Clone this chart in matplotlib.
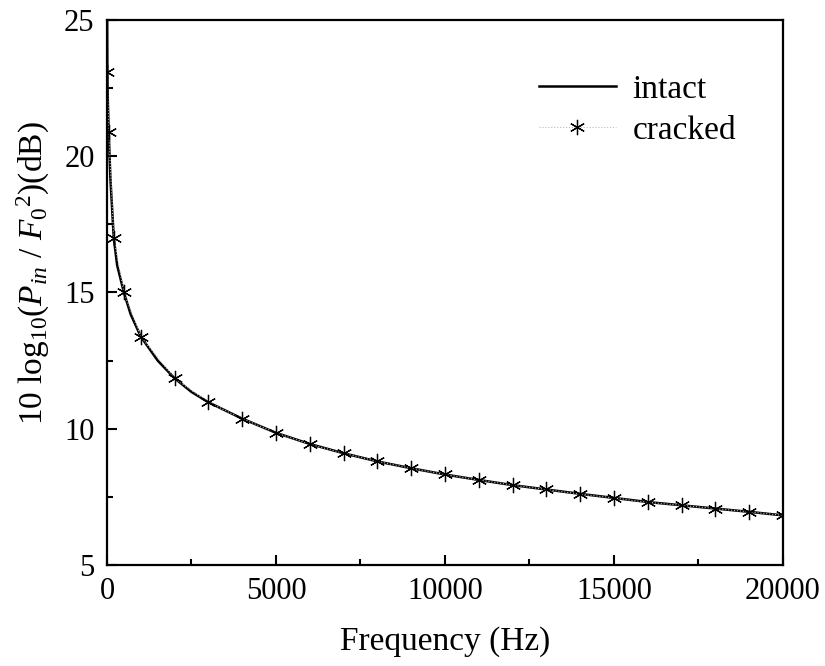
import matplotlib
matplotlib.use("Agg")
from matplotlib import pyplot as plt
from matplotlib.ticker import MultipleLocator

plt.rcParams['font.family'] = ['Liberation Serif', 'DejaVu Serif']
plt.rcParams['mathtext.fontset'] = 'custom'
plt.rcParams['mathtext.rm'] = 'Liberation Serif'
plt.rcParams['mathtext.it'] = 'Liberation Serif:italic'

freq_intact = [5, 10, 25, 50, 100, 200, 300, 500, 700, 1000, 1500, 2000, 2500,
               3000, 4000, 5000, 6000, 7000, 8000, 9000, 10000, 11000, 12000,
               13000, 14000, 15000, 16000, 17000, 18000, 19000, 20000]
level_intact = [25.0, 23.1, 22.0, 20.9, 19.2, 17.0, 16.0, 15.0, 14.2, 13.38,
                12.5, 11.85, 11.35, 10.97, 10.37, 9.85, 9.44, 9.10, 8.80, 8.55,
                8.32, 8.12, 7.93, 7.77, 7.61, 7.46, 7.31, 7.19, 7.07, 6.95, 6.82]

freq_cracked = [10, 50, 200, 500, 1000, 2000, 3000, 4000, 5000, 6000, 7000,
                8000, 9000, 10000, 11000, 12000, 13000, 14000, 15000, 16000,
                17000, 18000, 19000, 20000]
level_cracked = [23.1, 20.9, 17.0, 15.0, 13.38, 11.85, 10.97, 10.37, 9.85, 9.43,
                 9.10, 8.80, 8.55, 8.32, 8.12, 7.93, 7.77, 7.60, 7.46, 7.30,
                 7.19, 7.07, 6.95, 6.82]

fig = plt.figure(figsize=(8.25, 6.66), dpi=100)
ax = fig.add_axes([0.1297, 0.1517, 0.8193, 0.8183])

ax.plot(freq_intact, level_intact, color='black', linewidth=1.8, label='intact')
ax.plot(freq_cracked, level_cracked, color='#bbbbbb', linestyle=':', linewidth=0.8,
        marker=(6, 2, 0), markersize=11, markeredgecolor='black',
        markeredgewidth=0.9, label='cracked')

ax.set_xlim(0, 20000)
ax.set_ylim(5, 25)
ax.xaxis.set_major_locator(MultipleLocator(5000))
ax.xaxis.set_minor_locator(MultipleLocator(2500))
ax.yaxis.set_major_locator(MultipleLocator(5))
ax.yaxis.set_minor_locator(MultipleLocator(2.5))
ax.tick_params(which='both', direction='in', top=False, right=False, labelsize=22,
               width=1.5, pad=9)
ax.tick_params(which='major', length=7)
ax.tick_params(which='minor', length=4)
for s in ax.spines.values():
    s.set_linewidth(1.6)

ax.set_xlabel('Frequency (Hz)', fontsize=24, labelpad=14)
ax.set_ylabel(r'10 log$_{10}$($P_{in}$ / $F_0$$^2$)(dB)', fontsize=24)
ax.yaxis.set_label_coords(-0.082, 0.535)

ax.legend(loc='upper right', bbox_to_anchor=(0.975, 0.955), frameon=False,
          fontsize=24, handlelength=2.3, handletextpad=0.5, labelspacing=0.3)

fig.savefig('out.png', dpi=100)
